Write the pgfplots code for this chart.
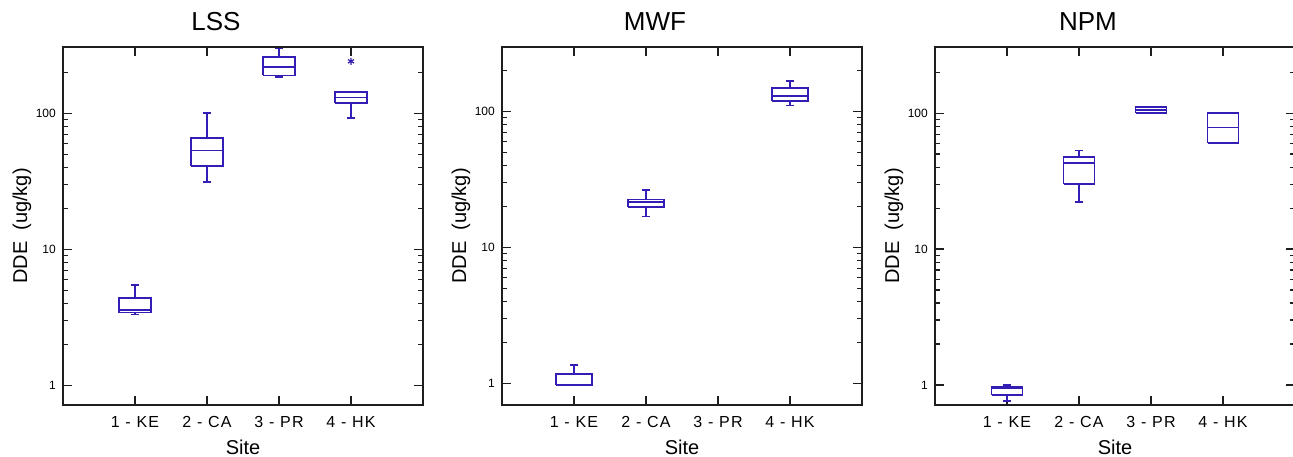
\documentclass[border=0pt]{standalone}
\usepackage{fontspec}
\setmainfont{Liberation Sans}
\usepackage{pgfplots}
\pgfplotsset{compat=1.18}

\definecolor{boxblue}{RGB}{50,30,180}
\definecolor{axisgray}{RGB}{30,30,30}

% One box-and-whisker glyph:
% #1 position, #2 half box width, #3 lower whisker, #4 lower quartile,
% #5 median, #6 upper quartile, #7 upper whisker
\newcommand\dbox[7]{%
  \pgfmathsetmacro\bxl{#1-#2}%
  \pgfmathsetmacro\bxr{#1+#2}%
  \pgfmathsetmacro\cxl{#1-0.05}%
  \pgfmathsetmacro\cxr{#1+0.05}%
  \edef\dboxplot{\noexpand\addplot[boxblue, line width=1.7pt] coordinates {
    (\bxl,#4) (\bxr,#4) (\bxr,#6) (\bxl,#6) (\bxl,#4) (\bxl,nan)
    (\bxl,#5) (\bxr,#5) (\bxr,nan)
    (#1,#6) (#1,#7) (#1,nan)
    (\cxl,#7) (\cxr,#7) (\cxr,nan)
    (#1,#4) (#1,#3) (#1,nan)
    (\cxl,#3) (\cxr,#3)};}%
  \dboxplot
}

\pgfplotsset{
  every axis/.append style={
    scale only axis,
    width=360pt, height=358pt,
    xmin=0, xmax=5,
    unbounded coords=jump,
    xtick={1,2,3,4},
    xticklabels={1 - KE, 2 - CA, 3 - PR, 4 - HK},
    ytick={1,10,100}, yticklabels={1,10,100},
    tick align=inside,
    major tick length=9pt, minor tick length=5pt,
    tick style={axisgray, line width=1.3pt},
    axis line style={axisgray, line width=1.6pt},
    xlabel={Site},
    ylabel={DDE\ \ (ug/kg)},
  },
  every axis title/.append style={at={(0.5,1)}, anchor=base,
    yshift=11pt, xshift=-27pt, font=\fontsize{26}{30}\selectfont},
  every axis x label/.append style={at={(0.5,0)}, anchor=base,
    yshift=-49pt, font=\fontsize{20}{24}\selectfont},
  every axis y label/.append style={at={(-0.114,0.5)}, anchor=center,
    font=\fontsize{20}{24}\selectfont},
  every x tick label/.append style={anchor=base, yshift=-22.7pt,
    font=\fontsize{16}{19}\selectfont\addfontfeatures{LetterSpace=8}},
  every y tick label/.append style={anchor=east, inner sep=0pt, xshift=-7pt,
    font=\fontsize{12}{14}\selectfont},
}

\begin{document}
\begin{tikzpicture}
\useasboundingbox (0,0) rectangle (1293pt,456pt);

% LSS
\begin{axis}[ymode=log, minor ytick={2,3,...,9,20,30,...,90,200},
  at={(63pt,51pt)}, anchor=south west, ymin=0.72, ymax=307, title={LSS}]
\dbox{1}{0.22}{3.33}{3.44}{3.60}{4.39}{5.47}
\dbox{2}{0.22}{31.3}{40.8}{53.4}{65.9}{100}
\dbox{3}{0.22}{185}{190}{218}{260}{299}
\dbox{4}{0.22}{92.5}{118.5}{131}{143}{143}
\addplot[boxblue, only marks, mark=asterisk, mark size=3.5pt,
  mark options={line width=1.2pt}] coordinates {(4,241)};
\end{axis}

% MWF
\begin{axis}[ymode=log, minor ytick={2,3,...,9,20,30,...,90,200},
  at={(502pt,51pt)}, anchor=south west,
  ymin=0.692, ymax=299, title={MWF}]
\dbox{1}{0.25}{0.967}{0.967}{0.967}{1.17}{1.37}
\dbox{2}{0.25}{16.9}{19.8}{21.7}{22.6}{26.5}
\dbox{4}{0.25}{111}{120}{131}{149}{169}
\end{axis}

% NPM
\begin{axis}[ymode=log, minor ytick={2,3,...,9,20,30,...,90,200},
  at={(935pt,51pt)}, anchor=south west,
  ymin=0.712, ymax=307, title={NPM}]
\dbox{1}{0.215}{0.766}{0.848}{0.95}{0.967}{1.0}
\dbox{2}{0.215}{22.2}{30.2}{42.9}{47.8}{53.1}
\dbox{3}{0.215}{100}{100}{106}{111.5}{111.5}
\dbox{4}{0.215}{60.2}{60.2}{78.5}{100}{100}
\end{axis}
\end{tikzpicture}
\end{document}
